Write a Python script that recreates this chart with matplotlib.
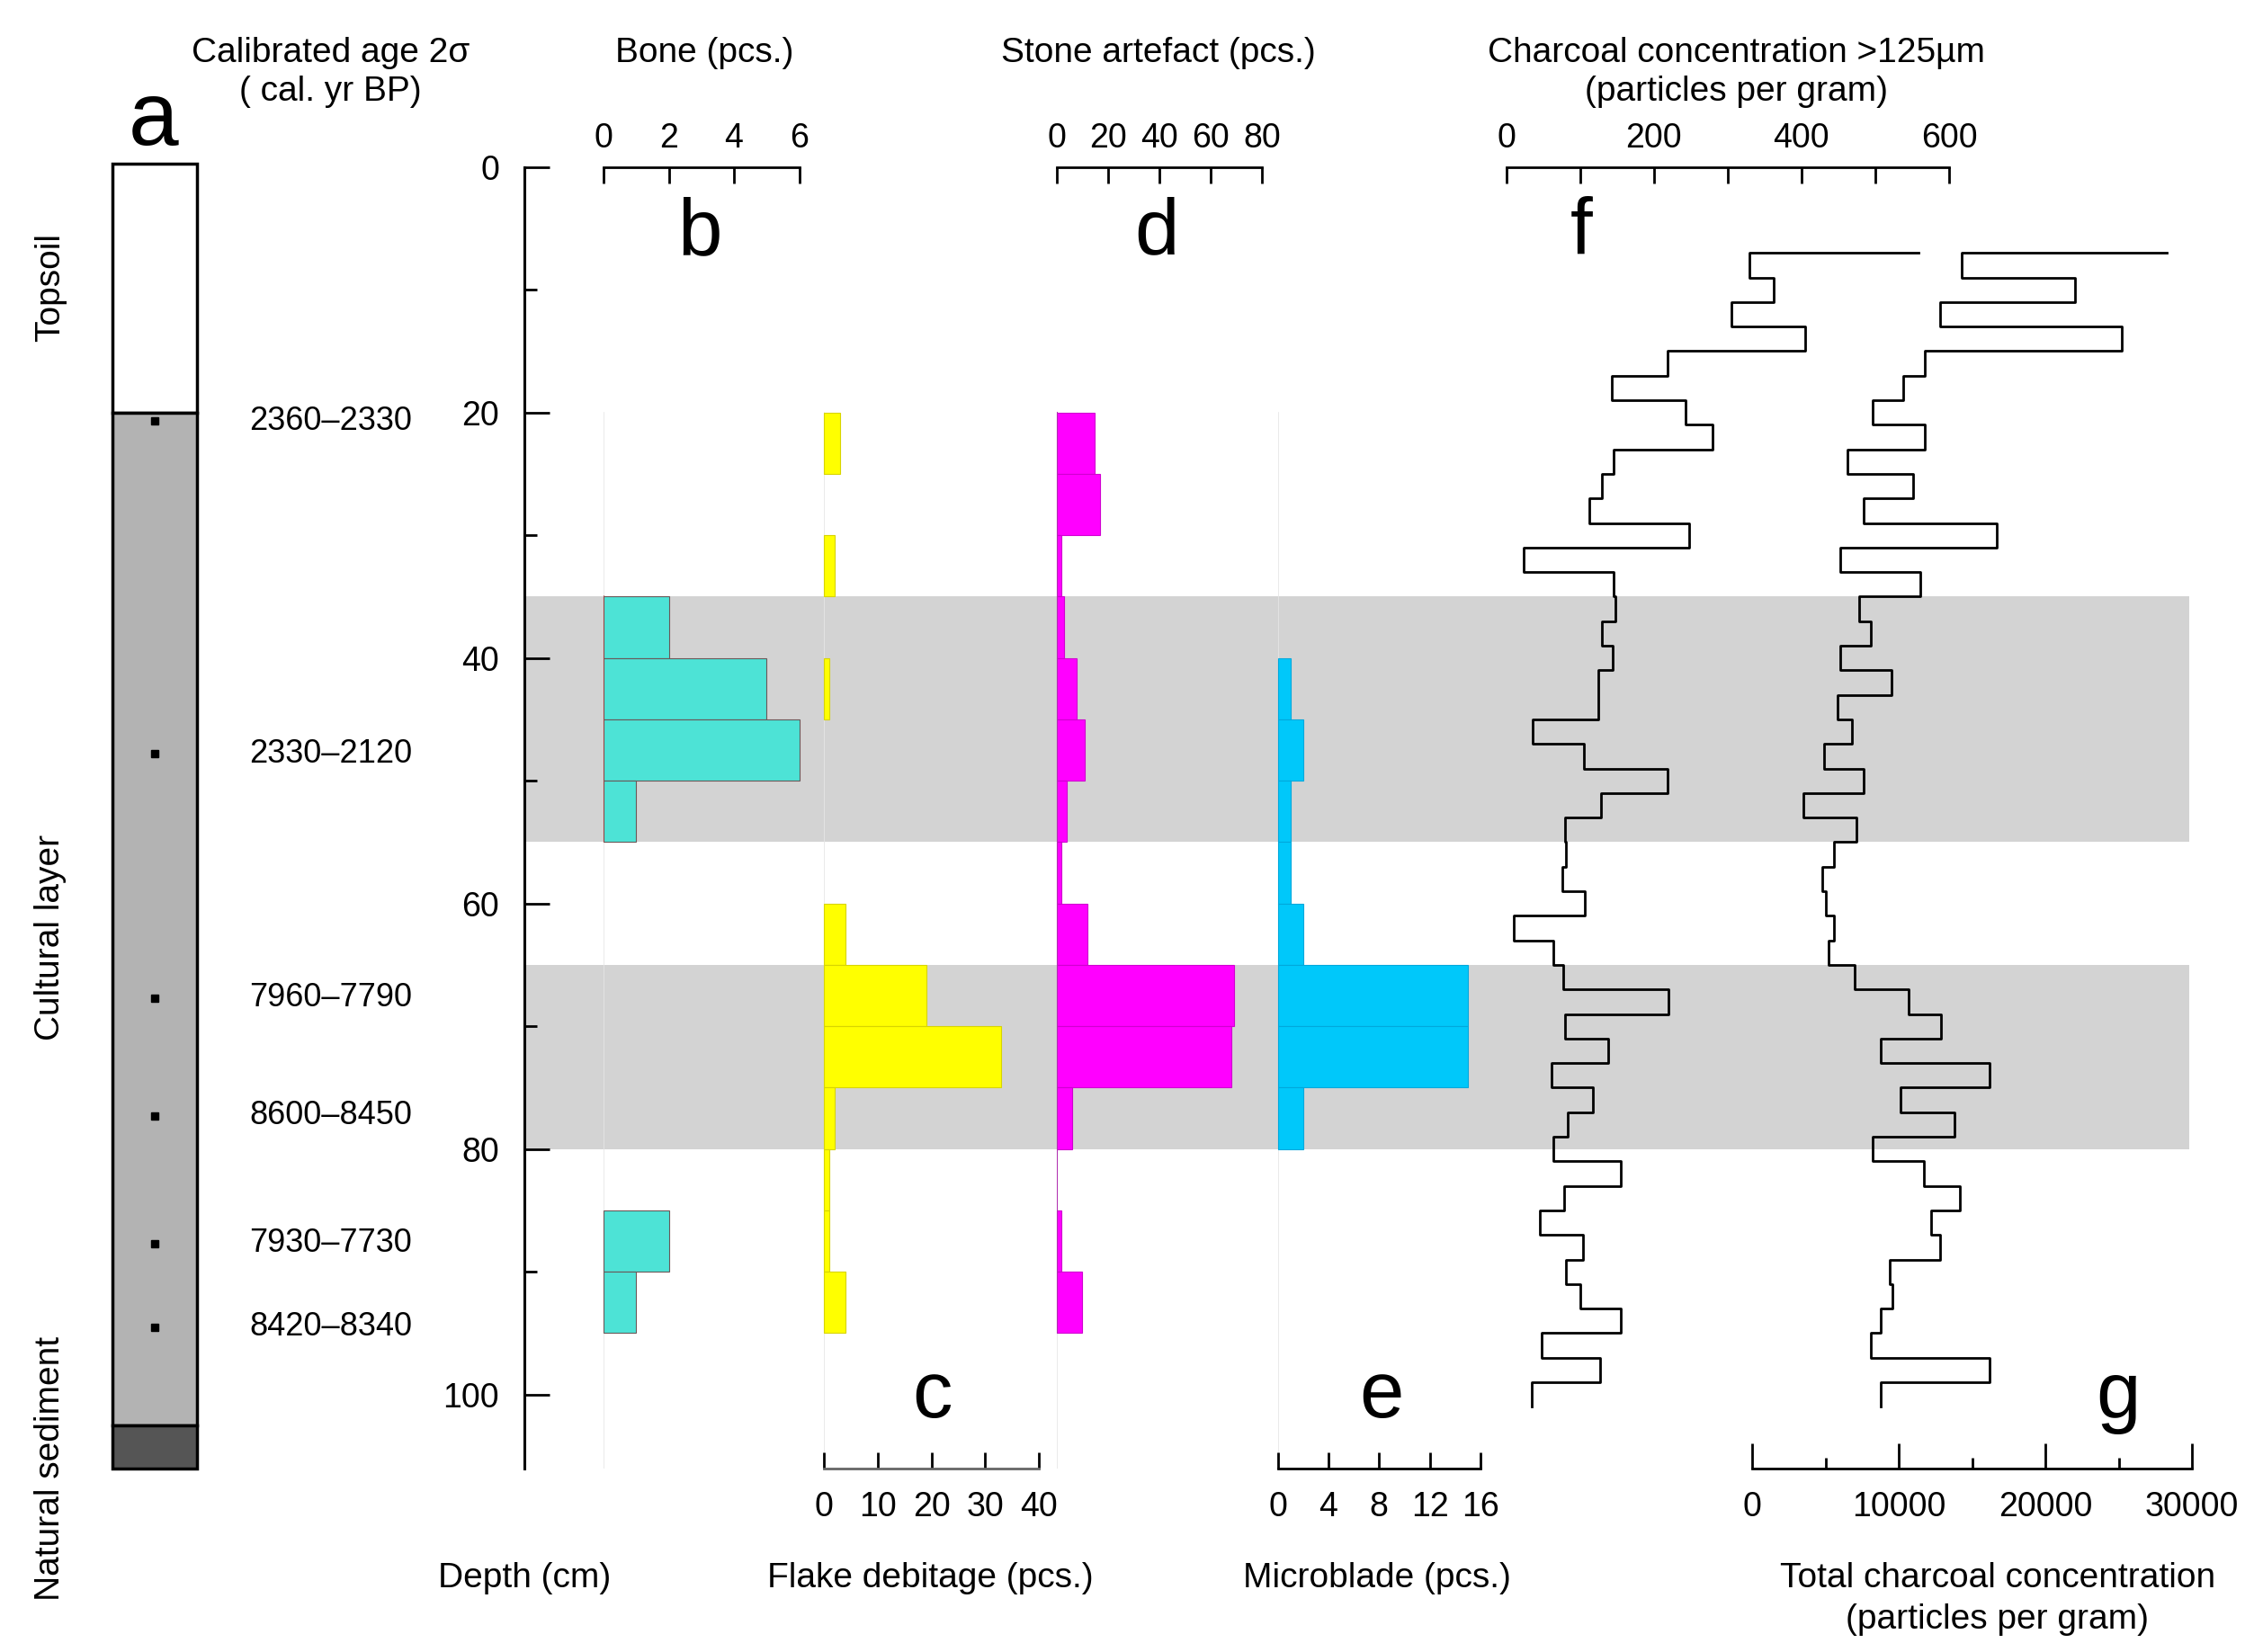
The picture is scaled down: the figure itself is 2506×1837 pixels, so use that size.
import matplotlib.pyplot as plt
from matplotlib.patches import Rectangle
from matplotlib.ticker import MultipleLocator, FixedLocator

plt.rcParams['font.family'] = ['Liberation Sans', 'DejaVu Sans']

# 5 cm levels, 20-95 cm
level_top = [20, 25, 30, 35, 40, 45, 50, 55, 60, 65, 70, 75, 80, 85, 90]
bone = [0, 0, 0, 2, 5, 6, 1, 0, 0, 0, 0, 0, 0, 2, 1]
flake = [3, 0, 2, 0, 1, 0, 0, 0, 4, 19, 33, 2, 1, 1, 4]
stone = [15, 17, 2, 3, 8, 11, 4, 2, 12, 69, 68, 6, 0, 2, 10]
microblade = [0, 0, 0, 0, 1, 2, 1, 1, 2, 15, 15, 2, 0, 0, 0]

# charcoal samples, 2 cm steps
char_depth = list(range(7, 103, 2))
char_125 = [559, 329, 362, 305, 405, 219, 143, 243, 279, 146, 129, 112, 248, 24,
            146, 148, 129, 144, 125, 125, 36, 105, 219, 128, 79, 81, 76, 106, 10,
            64, 77, 220, 79, 138, 61, 117, 83, 64, 155, 78, 46, 104, 81, 100, 155,
            48, 127, 34]
char_total = [28300, 14300, 22000, 12800, 25200, 11800, 10300, 8200, 11800, 6500,
              11000, 7600, 16700, 6000, 11500, 7300, 8100, 6000, 9500, 5800, 6800,
              4900, 7600, 3500, 7100, 5600, 4800, 5000, 5600, 5200, 7000, 10700,
              12900, 8800, 16200, 10100, 13800, 8200, 11700, 14200, 12200, 12800,
              9400, 9600, 8800, 8100, 16200, 8800]

# dated samples
age_depth = [20.7, 47.8, 67.7, 77.3, 87.7, 94.5]
age_label = ['2360\u20132330', '2330\u20132120', '7960\u20137790',
             '8600\u20138450', '7930\u20137730', '8420\u20138340']

bands = [(35, 55), (65, 80)]

W, H = 2506, 1837
fig = plt.figure(figsize=(W / 100, H / 100), dpi=100)
fig.patch.set_facecolor('white')

Y0, Y1 = 185.7, 1632.6   # pixel rows of depth 0 and 106
DMAX = 106


def fx(px):
    return px / W


def fy(py):
    return 1 - py / H


def panel(x0, x1):
    ax = fig.add_axes([fx(x0), fy(Y1), fx(x1) - fx(x0), fy(Y0) - fy(Y1)])
    ax.set_ylim(DMAX, 0)
    ax.set_facecolor('none')
    for s in ax.spines.values():
        s.set_visible(False)
    ax.set_yticks([])
    return ax


FS = 27

# background with depth axis and grey bands
bg = panel(583, 2434)
bg.set_xlim(0, 1)
bg.set_xticks([])
for a, b in bands:
    bg.axhspan(a, b, color='#d3d3d3', lw=0, zorder=0)
bg.spines['left'].set_visible(True)
bg.spines['left'].set_linewidth(2.2)
bg.yaxis.set_major_locator(MultipleLocator(20))
bg.yaxis.set_minor_locator(FixedLocator([10, 30, 50, 70, 90]))
bg.tick_params(axis='y', which='major', direction='in', length=20, width=2,
               labelsize=FS, pad=20)
bg.tick_params(axis='y', which='minor', direction='in', length=10, width=2)
bg.set_ylim(DMAX, 0)


def count_panel(x0, x1, vals, color, edge, xmax, ticks, top):
    ax = panel(x0, x1)
    ax.set_xlim(0, xmax)
    ax.plot([0, 0], [20, DMAX], color='#e6e6e6', lw=1.2, zorder=1)
    for d, v in zip(level_top, vals):
        if v > 0:
            ax.barh(d, v, height=5, align='edge', color=color, edgecolor=edge,
                    lw=0.8, zorder=2, clip_on=False)
    side = 'top' if top else 'bottom'
    ax.spines[side].set_visible(True)
    ax.spines[side].set_linewidth(2)
    ax.set_xticks(ticks)
    ax.xaxis.set_ticks_position(side)
    ax.xaxis.set_label_position(side)
    ax.tick_params(axis='x', direction='in', length=13, width=2,
                   labelsize=FS, pad=10 if top else 18)
    return ax


ax_b = count_panel(671, 888.5, bone, '#4de3d6', '#6a5858', 6, [0, 2, 4, 6], True)
ax_b.plot([0, 0], [35, 55], color='#a04040', lw=1.2, zorder=3)
ax_c = count_panel(915.7, 1155.4, flake, '#ffff00', '#d8d400', 40,
                   [0, 10, 20, 30, 40], False)
ax_c.spines['bottom'].set_color('#666666')
ax_d = count_panel(1174.5, 1403, stone, '#ff00ff', '#d000d0', 80,
                   [0, 20, 40, 60, 80], True)
ax_d.plot([0, 0], [20, 95], color='#b030b0', lw=1.5, zorder=3)
ax_e = count_panel(1420.6, 1646, microblade, '#00c8fa', '#00a8dc', 16,
                   [0, 4, 8, 12, 16], False)

# charcoal >125 um
ax_f = panel(1674.7, 2167)
ax_f.set_xlim(0, 600)
ax_f.plot(char_125, char_depth, drawstyle='steps-post', color='black', lw=2,
          clip_on=False)
ax_f.spines['top'].set_visible(True)
ax_f.spines['top'].set_linewidth(2)
ax_f.xaxis.set_ticks_position('top')
ax_f.set_xticks([0, 200, 400, 600])
ax_f.xaxis.set_minor_locator(FixedLocator([100, 300, 500]))
ax_f.tick_params(axis='x', which='both', direction='in', length=13, width=2,
                 labelsize=FS, pad=10)

# total charcoal
ax_g = panel(1948, 2437)
ax_g.set_xlim(0, 30000)
ax_g.plot(char_total, char_depth, drawstyle='steps-post', color='black', lw=2,
          clip_on=False)
ax_g.spines['bottom'].set_visible(True)
ax_g.spines['bottom'].set_linewidth(2)
ax_g.set_xticks([0, 10000, 20000, 30000])
ax_g.xaxis.set_minor_locator(FixedLocator([5000, 15000, 25000]))
ax_g.tick_params(axis='x', which='major', direction='in', length=20, width=2,
                 labelsize=FS, pad=18)
ax_g.tick_params(axis='x', which='minor', direction='in', length=9, width=2)

# lithology column
ax_a = panel(124.6, 219)
ax_a.set_xlim(0, 1)
ax_a.set_xticks([])
layers = [(-0.3, 20.3, 'white'), (20, 82.5, '#b3b3b3'), (102.5, 3.5, '#555555')]
for top, thick, col in layers:
    ax_a.add_patch(Rectangle((0, top), 1, thick, facecolor=col,
                             edgecolor='black', lw=2.5, clip_on=False))
ax_a.plot([0.5] * len(age_depth), age_depth, 's', color='black', ms=6)
ax_a.set_ylim(DMAX, 0)

for d, lab in zip(age_depth, age_label):
    fig.text(fx(367.5), fy(Y0 + (Y1 - Y0) * d / DMAX), lab, ha='center',
             va='center', fontsize=26)

# titles
def label(x, y, s, size=28, **kw):
    fig.text(fx(x), fy(y), s, ha='center', va='center', fontsize=size, **kw)


label(367.5, 59, 'Calibrated age 2\u03c3')
label(367.5, 102, '( cal. yr BP)')
label(783, 59, 'Bone (pcs.)')
label(1288, 59, 'Stone artefact (pcs.)')
label(1930, 59, 'Charcoal concentration >125\u00b5m')
label(1930, 102, '(particles per gram)')
label(583, 1755, 'Depth (cm)')
label(1034, 1755, 'Flake debitage (pcs.)')
label(1531, 1755, 'Microblade (pcs.)')
label(2221, 1755, 'Total charcoal concentration')
label(2221, 1801, '(particles per gram)')

label(56, 320, 'Topsoil', rotation=90)
label(56, 1042, 'Cultural layer', rotation=90)
label(56, 1633, 'Natural sediment', rotation=90)

# panel letters
label(171, 135, 'a', size=72)
for x, y, s in [(778, 260, 'b'), (1286, 260, 'd'), (1758, 260, 'f'),
                (1037, 1553, 'c'), (1536, 1553, 'e'), (2355, 1553, 'g')]:
    label(x, y, s, size=64)

fig.savefig('out.png', dpi=100, facecolor='white')
